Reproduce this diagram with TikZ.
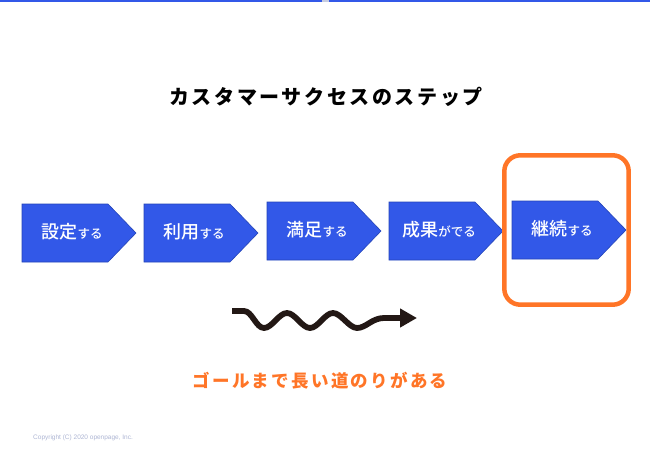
\documentclass[tikz,border=0pt]{standalone}
\usepackage{fontspec}
\usetikzlibrary{arrows.meta}
\newfontfamily\jp{Noto Sans CJK JP Medium}
\newfontfamily\jptitle{Noto Sans CJK JP}[LetterSpace=13]
\newfontfamily\jporange{Noto Sans CJK JP}[LetterSpace=13]
\newfontfamily\cpy{Liberation Sans}
\definecolor{boxblue}{HTML}{3258E8}
\definecolor{boxedge}{HTML}{2444B8}
\definecolor{accent}{HTML}{FF7527}
\definecolor{wave}{HTML}{231815}
\definecolor{cpygrey}{HTML}{AEB6D4}
\tikzset{
  stepbox/.style={fill=boxblue, draw=boxedge, line width=0.6pt},
  steptext/.style={text=white, font=\jp, anchor=base, inner sep=0pt},
  goalframe/.style={draw=accent, line width=4.5pt, rounded corners=16pt},
}
\begin{document}
\begin{tikzpicture}[x=1pt,y=-1pt]
\useasboundingbox (0,0) rectangle (650,450);
\fill[white] (0,0) rectangle (650,450);
% top rule
\fill[boxblue] (0,0) rectangle (650,1.6);
\fill[cpygrey!70] (322,0) rectangle (329,2.2);
% title
\node[font=\jptitle\bfseries\fontsize{20}{20}\selectfont, text=black, inner sep=0pt] (title) at (326,97) {カスタマーサクセスのステップ};
% step boxes
\foreach \i/\x/\t/\main/\suf in {1/22/204/設定/する, 2/144/204/利用/する, 3/267/202/満足/する, 4/389/202/成果/がでる, 5/512/201/継続/する}{
  \draw[stepbox] (\x,\t) -- ++(86,0) -- ++(28,29) -- ++(-28,29) -- ++(-86,0) -- cycle;
  \node[steptext] (s\i) at (\x+50,\t+34) {{\fontsize{18}{18}\selectfont\main}{\fontsize{12.5}{12.5}\selectfont\suf}};
}
% highlight frame
\draw[goalframe] (504.3,155.3) rectangle (628.7,304.7);
\coordinate (frame) at (566,230);
% wavy arrow
\coordinate (w0) at (232,311);
\coordinate (w1) at (417,318);
\draw[wave, line width=5.8pt, -{Triangle[length=17pt,width=18pt]}]
  (w0) -- (244,311)
  .. controls (252,311) and (256,328) .. (264,328)
  .. controls (272,328) and (279,313) .. (287,313)
  .. controls (295,313) and (302,328) .. (310,328)
  .. controls (318,328) and (325,313) .. (333,313)
  .. controls (341,313) and (349,328) .. (357,328)
  .. controls (366,328) and (372,318) .. (384,318)
  -- (w1);
% goal text
\node[font=\jporange\bfseries\fontsize{17.5}{17.5}\selectfont, text=accent, inner sep=0pt] (goal) at (320,381) {ゴールまで長い道のりがある};
% copyright
\node[font=\cpy\fontsize{6.5}{7}\selectfont, text=cpygrey, anchor=west, inner sep=0pt] (copy) at (33,438) {Copyright (C) 2020 openpage, Inc.};
\end{tikzpicture}
\end{document}
